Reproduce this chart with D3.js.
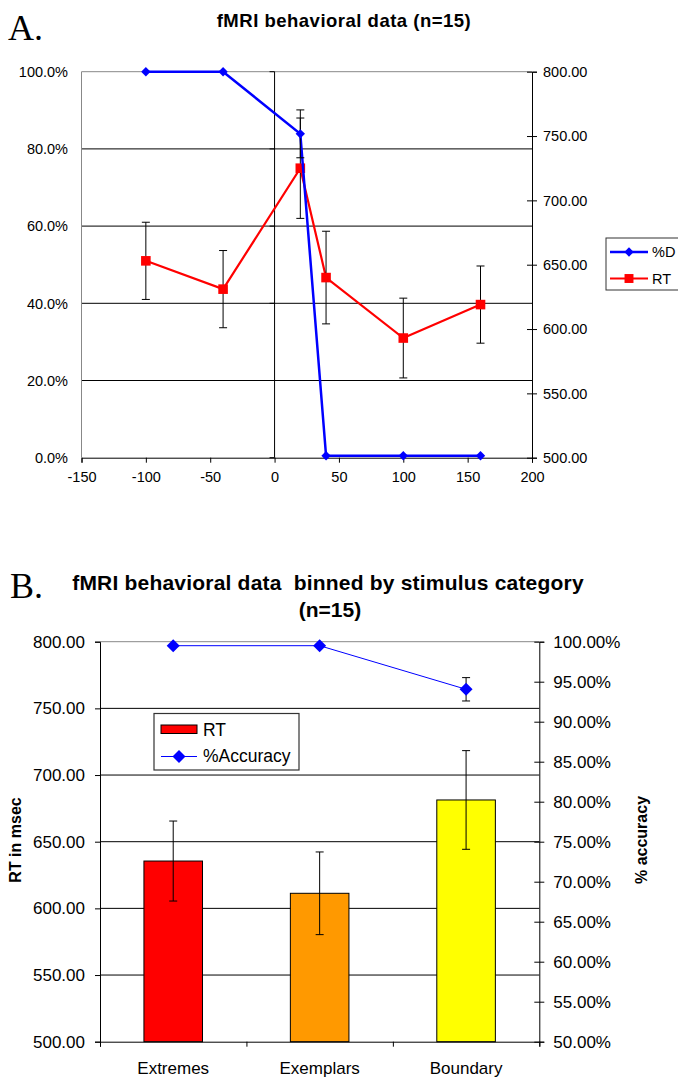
<!DOCTYPE html>
<html>
<head>
<meta charset="utf-8">
<script src="https://cdn.jsdelivr.net/npm/d3@7"></script>
<style>
  body { margin: 0; background: #fff; }
  text { font-family: "Liberation Sans", Arial, sans-serif; fill: #000; }
</style>
</head>
<body>
<script>
// panel A data
var xValues = [-100, -40, 20, 40, 100, 160];
var pctD = [1.0, 1.0, 0.839, 0.005, 0.005, 0.005];
var pctDErr = [0, 0, 0.062, 0, 0, 0];
var rtA = [653, 631, 725, 640, 593, 619];
var rtAErr = [30, 30, 39, 36, 31, 30];
var xTicksA = [-150, -100, -50, 0, 50, 100, 150, 200];

// panel B data
var categories = ["Extremes", "Exemplars", "Boundary"];
var rtB = [635.5, 611.3, 681.3];
var rtBErr = [30, 31, 37];
var accuracy = [0.995, 0.995, 0.9405];
var accuracyErr = [0, 0, 0.0146];
var barColors = ["#ff0000", "#ff9900", "#ffff00"];

var w = 678, h = 1078;
var svg = d3.select("body").append("svg").attr("width", w).attr("height", h);

// ---------------- panel A ----------------
var a = { left: 81.5, right: 532, top: 71.7, bottom: 457.7 };
var xA = d3.scaleLinear().domain([-150, 200]).range([a.left, a.right]);
var yA = d3.scaleLinear().domain([0, 1]).range([a.bottom, a.top]);
var yA2 = d3.scaleLinear().domain([500, 800]).range([a.bottom, a.top]);

svg.append("text").attr("x", 8).attr("y", 40)
    .style("font-family", "'Liberation Serif', 'Times New Roman', serif")
    .style("font-size", "36px").text("A.");
svg.append("text").attr("x", 344).attr("y", 27).attr("text-anchor", "middle")
    .style("font-size", "18.5px").style("font-weight", "bold").style("letter-spacing", "0.5px")
    .text("fMRI behavioral data (n=15)");

var gA = svg.append("g");
// gridlines
gA.selectAll("line.grid").data([0.2, 0.4, 0.6, 0.8]).enter().append("line")
    .attr("x1", a.left).attr("x2", a.right)
    .attr("y1", function (d) { return yA(d); }).attr("y2", function (d) { return yA(d); })
    .attr("stroke", "#000").attr("stroke-width", 1);
// plot border top/left in gray
gA.append("line").attr("x1", a.left).attr("x2", a.right).attr("y1", a.top).attr("y2", a.top).attr("stroke", "#888");
gA.append("line").attr("x1", a.left).attr("x2", a.left).attr("y1", a.top).attr("y2", a.bottom).attr("stroke", "#888");
// y axis line crossing at x=0
gA.append("line").attr("x1", xA(0)).attr("x2", xA(0)).attr("y1", a.top).attr("y2", a.bottom).attr("stroke", "#000");
gA.selectAll("line.ytick").data([0, 0.2, 0.4, 0.6, 0.8, 1]).enter().append("line")
    .attr("x1", xA(0) - 5).attr("x2", xA(0))
    .attr("y1", function (d) { return yA(d); }).attr("y2", function (d) { return yA(d); })
    .attr("stroke", "#000");
// left labels
gA.selectAll("text.yl").data([0, 0.2, 0.4, 0.6, 0.8, 1]).enter().append("text")
    .attr("x", 68).attr("y", function (d) { return yA(d); }).attr("dy", "0.36em")
    .attr("text-anchor", "end").style("font-size", "14.5px")
    .text(function (d) { return d3.format(".1%")(d); });

// bottom axis
var axA = d3.axisBottom(xA).tickValues(xTicksA).tickSize(5).tickPadding(9)
    .tickFormat(function (d) { return String(d); });
gA.append("g").attr("transform", "translate(0," + a.bottom + ")").call(axA)
    .call(function (g) {
        g.select(".domain").attr("stroke", "#000");
        g.selectAll("text").style("font-size", "14.5px").style("font-family", "'Liberation Sans', Arial, sans-serif").attr("fill", "#000");
    });

// right axis
var axA2 = d3.axisRight(yA2).tickValues([500, 550, 600, 650, 700, 750, 800]).tickSize(5).tickPadding(6).tickFormat(d3.format(".2f"));
gA.append("g").attr("transform", "translate(" + a.right + ",0)").call(axA2)
    .call(function (g) {
        g.select(".domain").attr("stroke", "#000");
        g.selectAll(".tick line").attr("x1", -5);
        g.selectAll("text").style("font-size", "14.5px").style("font-family", "'Liberation Sans', Arial, sans-serif").attr("fill", "#000");
    });

function errorBars(g, xs, ys, errs, xScale, yScale, cap) {
    var data = xs.map(function (x, i) { return { x: x, y: ys[i], e: errs[i] }; })
        .filter(function (d) { return d.e > 0; });
    var eb = g.selectAll(null).data(data).enter().append("g");
    eb.append("line")
        .attr("x1", function (d) { return xScale(d.x); }).attr("x2", function (d) { return xScale(d.x); })
        .attr("y1", function (d) { return yScale(d.y - d.e); }).attr("y2", function (d) { return yScale(d.y + d.e); })
        .attr("stroke", "#000").attr("stroke-width", 1);
    [-1, 1].forEach(function (s) {
        eb.append("line")
            .attr("x1", function (d) { return xScale(d.x) - cap; }).attr("x2", function (d) { return xScale(d.x) + cap; })
            .attr("y1", function (d) { return yScale(d.y + s * d.e); }).attr("y2", function (d) { return yScale(d.y + s * d.e); })
            .attr("stroke", "#000").attr("stroke-width", 1);
    });
}

// RT series (secondary axis)
var rtLine = d3.line().x(function (d, i) { return xA(xValues[i]); }).y(function (d) { return yA2(d); });
gA.append("path").datum(rtA).attr("d", rtLine).attr("fill", "none").attr("stroke", "#ff0000").attr("stroke-width", 2.2);
errorBars(gA, xValues, rtA, rtAErr, xA, yA2, 4);
gA.selectAll("path.sq").data(rtA).enter().append("path")
    .attr("d", d3.symbol(d3.symbolSquare, 92))
    .attr("transform", function (d, i) { return "translate(" + xA(xValues[i]) + "," + yA2(d) + ")"; })
    .attr("fill", "#ff0000");

// %D series
var dLine = d3.line().x(function (d, i) { return xA(xValues[i]); }).y(function (d) { return yA(d); });
gA.append("path").datum(pctD).attr("d", dLine).attr("fill", "none").attr("stroke", "#0000ff").attr("stroke-width", 2.5);
errorBars(gA, xValues, pctD, pctDErr, xA, yA, 4);
gA.selectAll("path.dm").data(pctD).enter().append("path")
    .attr("d", d3.symbol(d3.symbolDiamond2, 56))
    .attr("transform", function (d, i) { return "translate(" + xA(xValues[i]) + "," + yA(d) + ")"; })
    .attr("fill", "#0000ff");

// legend A
var lgA = svg.append("g").attr("transform", "translate(606,238)");
lgA.append("rect").attr("width", 80).attr("height", 52).attr("fill", "#fff").attr("stroke", "#333");
[["%D", "#0000ff", d3.symbolDiamond2, 56, 2.5], ["RT", "#ff0000", d3.symbolSquare, 80, 2.2]].forEach(function (it, i) {
    var y = 14 + i * 26.5;
    lgA.append("line").attr("x1", 4).attr("x2", 42).attr("y1", y).attr("y2", y).attr("stroke", it[1]).attr("stroke-width", it[4]);
    lgA.append("path").attr("d", d3.symbol(it[2], it[3])).attr("transform", "translate(23," + y + ")").attr("fill", it[1]);
    lgA.append("text").attr("x", 46).attr("y", y).attr("dy", "0.36em").style("font-size", "14.5px").text(it[0]);
});

// ---------------- panel B ----------------
var b = { left: 100, right: 539.3, top: 641.7, bottom: 1041.7 };
var xB = d3.scaleBand().domain(categories).range([b.left, b.right]).paddingInner(0.6).paddingOuter(0.3);
var yB = d3.scaleLinear().domain([500, 800]).range([b.bottom, b.top]);
var yB2 = d3.scaleLinear().domain([0.5, 1.0]).range([b.bottom, b.top]);

svg.append("text").attr("x", 10).attr("y", 598)
    .style("font-family", "'Liberation Serif', 'Times New Roman', serif")
    .style("font-size", "36px").text("B.");
svg.append("text").attr("x", 328).attr("y", 590).attr("text-anchor", "middle")
    .style("font-size", "21px").style("font-weight", "bold").style("letter-spacing", "0.2px")
    .style("white-space", "pre")
    .text("fMRI behavioral data  binned by stimulus category");
svg.append("text").attr("x", 330).attr("y", 617).attr("text-anchor", "middle")
    .style("font-size", "21px").style("font-weight", "bold")
    .text("(n=15)");

var gB = svg.append("g");
gB.selectAll("line.grid").data([550, 600, 650, 700, 750]).enter().append("line")
    .attr("x1", b.left).attr("x2", b.right)
    .attr("y1", function (d) { return yB(d); }).attr("y2", function (d) { return yB(d); })
    .attr("stroke", "#000");
gB.append("line").attr("x1", b.left).attr("x2", b.right).attr("y1", b.top).attr("y2", b.top).attr("stroke", "#888");

// bars
gB.selectAll("rect.bar").data(rtB).enter().append("rect")
    .attr("x", function (d, i) { return xB(categories[i]); })
    .attr("width", xB.bandwidth())
    .attr("y", function (d) { return yB(d); })
    .attr("height", function (d) { return b.bottom - yB(d); })
    .attr("fill", function (d, i) { return barColors[i]; })
    .attr("stroke", "#000").attr("stroke-width", 1);
var xCenter = function (c) { return xB(c) + xB.bandwidth() / 2; };
errorBars(gB, categories, rtB, rtBErr, xCenter, yB, 4);

// left axis
var axB = d3.axisLeft(yB).tickValues([500, 550, 600, 650, 700, 750, 800]).tickSize(5).tickPadding(10).tickFormat(d3.format(".2f"));
gB.append("g").attr("transform", "translate(" + b.left + ",0)").call(axB)
    .call(function (g) {
        g.select(".domain").attr("stroke", "#000");
        g.selectAll("text").style("font-size", "17px").style("font-family", "'Liberation Sans', Arial, sans-serif").attr("fill", "#000");
    });
// bottom axis, ticks between categories
var axBx = d3.axisBottom(d3.scaleLinear().domain([0, 3]).range([b.left, b.right]))
    .tickValues([0, 1, 2, 3]).tickSize(5).tickFormat("");
gB.append("g").attr("transform", "translate(0," + b.bottom + ")").call(axBx)
    .call(function (g) { g.select(".domain").attr("stroke", "#000"); });
gB.selectAll("text.cat").data(categories).enter().append("text")
    .attr("x", function (d) { return xCenter(d); }).attr("y", 1074)
    .attr("text-anchor", "middle").style("font-size", "17px")
    .text(function (d) { return d; });

// right axis
var axB2 = d3.axisRight(yB2).tickValues(d3.range(10, 21).map(function (k) { return k * 0.05; }))
    .tickSize(5).tickPadding(9).tickFormat(d3.format(".2%"));
gB.append("g").attr("transform", "translate(" + b.right + ",0)").call(axB2)
    .call(function (g) {
        g.select(".domain").attr("stroke", "#000");
        g.selectAll(".tick line").attr("x1", -5);
        g.selectAll("text").style("font-size", "17px").style("font-family", "'Liberation Sans', Arial, sans-serif").attr("fill", "#000");
    });

// accuracy line
var accLine = d3.line().x(function (d, i) { return xCenter(categories[i]); }).y(function (d) { return yB2(d); });
gB.append("path").datum(accuracy).attr("d", accLine).attr("fill", "none").attr("stroke", "#0000ff").attr("stroke-width", 1);
errorBars(gB, categories, accuracy, accuracyErr, xCenter, yB2, 4);
gB.selectAll("path.dm").data(accuracy).enter().append("path")
    .attr("d", d3.symbol(d3.symbolDiamond2, 108))
    .attr("transform", function (d, i) { return "translate(" + xCenter(categories[i]) + "," + yB2(d) + ")"; })
    .attr("fill", "#0000ff");

// axis titles
svg.append("text").attr("transform", "translate(21,840) rotate(-90)").attr("text-anchor", "middle")
    .style("font-size", "16px").style("font-weight", "bold").text("RT in msec");
svg.append("text").attr("transform", "translate(647,840) rotate(-90)").attr("text-anchor", "middle")
    .style("font-size", "16px").style("font-weight", "bold").text("% accuracy");

// legend B
var lgB = svg.append("g").attr("transform", "translate(154,713.5)");
lgB.append("rect").attr("width", 145).attr("height", 56.5).attr("fill", "#fff").attr("stroke", "#333").attr("stroke-width", 1.2);
lgB.append("rect").attr("x", 7).attr("y", 11.5).attr("width", 36).attr("height", 8.5).attr("fill", "#ff0000").attr("stroke", "#000");
lgB.append("text").attr("x", 49).attr("y", 16).attr("dy", "0.36em").style("font-size", "17.5px").text("RT");
lgB.append("line").attr("x1", 7).attr("x2", 43).attr("y1", 43).attr("y2", 43).attr("stroke", "#0000ff");
lgB.append("path").attr("d", d3.symbol(d3.symbolDiamond2, 108)).attr("transform", "translate(25,43)").attr("fill", "#0000ff");
lgB.append("text").attr("x", 49).attr("y", 42).attr("dy", "0.36em").style("font-size", "17.5px").text("%Accuracy");
</script>
</body>
</html>
